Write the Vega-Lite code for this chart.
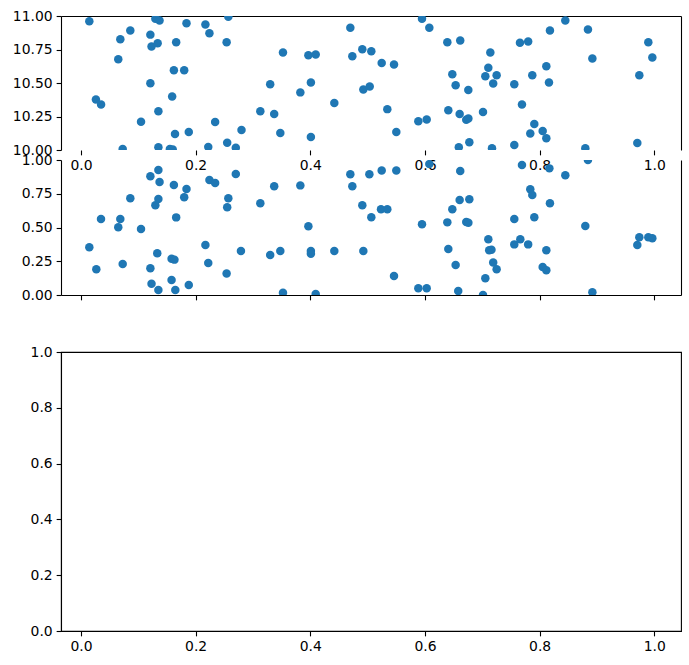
{
  "$schema": "https://vega.github.io/schema/vega-lite/v6.json",
  "padding": {"left": 12, "top": 9, "right": 5, "bottom": 5},
  "background": "white",
  "spacing": 10,
  "bounds": "flush",
  "config": {
    "view": {"stroke": null},
    "axis": {
      "labelFont": "DejaVu Sans", "labelFontSize": 13.9, "labelColor": "black",
      "tickColor": "black", "domainColor": "black", "tickSize": 4.86, "tickWidth": 1.1,
      "domainWidth": 1.1, "labelPadding": 4, "grid": false, "title": null,
      "labelOverlap": false, "labelFlush": false, "labelBound": false
    }
  },
  "datasets": {
    "top": [
      {"x":0.0145,"y":10.96},{"x":0.026,"y":10.377},{"x":0.035,"y":10.34},{"x":0.065,"y":10.678},{"x":0.0686,"y":10.827},
      {"x":0.0727,"y":10.007},{"x":0.086,"y":10.891},{"x":0.1047,"y":10.21},{"x":0.121,"y":10.861},{"x":0.121,"y":10.499},
      {"x":0.123,"y":10.772},{"x":0.1297,"y":10.98},{"x":0.1337,"y":10.797},{"x":0.137,"y":10.966},{"x":0.135,"y":10.29},
      {"x":0.135,"y":10.02},{"x":0.159,"y":10.40},{"x":0.162,"y":10.596},{"x":0.155,"y":10.007},{"x":0.16,"y":10.003},
      {"x":0.164,"y":10.12},{"x":0.166,"y":10.804},{"x":0.180,"y":10.596},{"x":0.184,"y":10.946},{"x":0.188,"y":10.134},
      {"x":0.217,"y":10.936},{"x":0.224,"y":10.871},{"x":0.222,"y":10.022},{"x":0.234,"y":10.209},{"x":0.257,"y":10.995},
      {"x":0.254,"y":10.804},{"x":0.255,"y":10.054},{"x":0.270,"y":10.017},{"x":0.280,"y":10.149},{"x":0.3128,"y":10.29},
      {"x":0.330,"y":10.49},{"x":0.337,"y":10.268},{"x":0.3477,"y":10.127},{"x":0.3523,"y":10.727},{"x":0.3826,"y":10.43},
      {"x":0.3966,"y":10.707},{"x":0.401,"y":10.504},{"x":0.4094,"y":10.712},{"x":0.401,"y":10.097},{"x":0.4419,"y":10.35},
      {"x":0.4698,"y":10.913},{"x":0.4733,"y":10.70},{"x":0.4907,"y":10.752},{"x":0.4925,"y":10.452},{"x":0.5036,"y":10.474},
      {"x":0.5064,"y":10.737},{"x":0.5245,"y":10.65},{"x":0.546,"y":10.638},{"x":0.5343,"y":10.305},{"x":0.550,"y":10.134},
      {"x":0.5884,"y":10.214},{"x":0.603,"y":10.228},{"x":0.5948,"y":10.98},{"x":0.6076,"y":10.913},{"x":0.639,"y":10.804},
      {"x":0.6615,"y":10.818},{"x":0.6477,"y":10.566},{"x":0.6535,"y":10.484},{"x":0.6407,"y":10.296},{"x":0.6605,"y":10.268},
      {"x":0.659,"y":10.02},{"x":0.6756,"y":10.447},{"x":0.672,"y":10.226},{"x":0.6757,"y":10.235},{"x":0.6774,"y":10.057},
      {"x":0.7012,"y":10.283},{"x":0.714,"y":10.727},{"x":0.7105,"y":10.613},{"x":0.7053,"y":10.551},{"x":0.725,"y":10.558},
      {"x":0.719,"y":10.497},{"x":0.7169,"y":10.013},{"x":0.7558,"y":10.49},{"x":0.7558,"y":10.037},{"x":0.7657,"y":10.80},
      {"x":0.780,"y":10.81},{"x":0.7692,"y":10.34},{"x":0.7872,"y":10.558},{"x":0.7907,"y":10.194},{"x":0.7837,"y":10.124},
      {"x":0.8053,"y":10.141},{"x":0.8117,"y":10.087},{"x":0.8117,"y":10.625},{"x":0.8163,"y":10.504},{"x":0.818,"y":10.891},
      {"x":0.8448,"y":10.966},{"x":0.8843,"y":10.90},{"x":0.892,"y":10.683},{"x":0.8797,"y":10.013},{"x":0.9704,"y":10.052},
      {"x":0.9739,"y":10.558},{"x":0.9896,"y":10.804},{"x":0.9966,"y":10.69}
    ],
    "mid": [
      {"x":0.0145,"y":0.353},{"x":0.0267,"y":0.19},{"x":0.0349,"y":0.563},{"x":0.065,"y":0.501},{"x":0.0686,"y":0.563},
      {"x":0.0727,"y":0.23},{"x":0.086,"y":0.716},{"x":0.1047,"y":0.489},{"x":0.121,"y":0.879},{"x":0.121,"y":0.198},
      {"x":0.123,"y":0.084},{"x":0.1297,"y":0.664},{"x":0.135,"y":0.926},{"x":0.137,"y":0.837},{"x":0.135,"y":0.711},
      {"x":0.133,"y":0.309},{"x":0.135,"y":0.037},{"x":0.158,"y":0.111},{"x":0.158,"y":0.268},{"x":0.163,"y":0.262},
      {"x":0.162,"y":0.815},{"x":0.1645,"y":0.037},{"x":0.166,"y":0.575},{"x":0.180,"y":0.724},{"x":0.184,"y":0.785},
      {"x":0.188,"y":0.074},{"x":0.217,"y":0.37},{"x":0.222,"y":0.237},{"x":0.224,"y":0.852},{"x":0.234,"y":0.83},
      {"x":0.254,"y":0.16},{"x":0.255,"y":0.65},{"x":0.257,"y":0.716},{"x":0.270,"y":0.896},{"x":0.279,"y":0.326},
      {"x":0.3128,"y":0.679},{"x":0.330,"y":0.296},{"x":0.337,"y":0.805},{"x":0.3477,"y":0.326},{"x":0.3523,"y":0.017},
      {"x":0.3826,"y":0.812},{"x":0.3966,"y":0.509},{"x":0.401,"y":0.326},{"x":0.401,"y":0.306},{"x":0.4094,"y":0.007},
      {"x":0.4419,"y":0.326},{"x":0.4698,"y":0.894},{"x":0.4733,"y":0.805},{"x":0.4907,"y":0.664},{"x":0.4925,"y":0.326},
      {"x":0.503,"y":0.894},{"x":0.5064,"y":0.576},{"x":0.5245,"y":0.923},{"x":0.5233,"y":0.635},{"x":0.5343,"y":0.635},
      {"x":0.550,"y":0.923},{"x":0.546,"y":0.141},{"x":0.5884,"y":0.05},{"x":0.603,"y":0.05},{"x":0.5948,"y":0.524},
      {"x":0.6076,"y":0.97},{"x":0.639,"y":0.538},{"x":0.6615,"y":0.918},{"x":0.6477,"y":0.635},{"x":0.6535,"y":0.222},
      {"x":0.6407,"y":0.341},{"x":0.6605,"y":0.704},{"x":0.658,"y":0.03},{"x":0.6774,"y":0.709},{"x":0.672,"y":0.54},
      {"x":0.6757,"y":0.535},{"x":0.7012,"y":0.0},{"x":0.7053,"y":0.124},{"x":0.7105,"y":0.413},{"x":0.712,"y":0.331},
      {"x":0.716,"y":0.335},{"x":0.719,"y":0.24},{"x":0.725,"y":0.19},{"x":0.7558,"y":0.563},{"x":0.7558,"y":0.375},
      {"x":0.7663,"y":0.413},{"x":0.7692,"y":0.963},{"x":0.780,"y":0.375},{"x":0.7837,"y":0.783},{"x":0.7872,"y":0.741},
      {"x":0.7907,"y":0.576},{"x":0.8053,"y":0.207},{"x":0.8117,"y":0.183},{"x":0.8117,"y":0.331},{"x":0.818,"y":0.679},
      {"x":0.817,"y":0.938},{"x":0.8448,"y":0.887},{"x":0.8797,"y":0.511},{"x":0.8843,"y":1.0},{"x":0.892,"y":0.02},
      {"x":0.9704,"y":0.37},{"x":0.9739,"y":0.427},{"x":0.9896,"y":0.427},{"x":0.9966,"y":0.42}
    ]
  },
  "vconcat": [
    {
      "width": 620, "height": 134,
      "data": {"name": "top"},
      "layer": [
        {
          "mark": {"type": "circle", "size": 72, "opacity": 1, "color": "#1f77b4", "clip": true},
          "encoding": {
            "x": {"field": "x", "type": "quantitative", "scale": {"domain": [-0.0349, 1.0466], "nice": false, "zero": false},
                  "axis": {"orient": "bottom", "values": [0, 0.2, 0.4, 0.6, 0.8, 1.0], "format": ".1f", "domain": false}},
            "y": {"field": "y", "type": "quantitative", "scale": {"domain": [10, 11], "nice": false, "zero": false},
                  "axis": {"orient": "left", "values": [10, 10.25, 10.5, 10.75, 11], "format": ".2f"}}
          }
        },
        {
          "mark": {"type": "circle", "opacity": 0},
          "encoding": {
            "x": {"field": "x", "type": "quantitative", "axis": {"orient": "top", "ticks": false, "labels": false, "domain": true}},
            "y": {"field": "y", "type": "quantitative", "axis": {"orient": "right", "ticks": false, "labels": false, "domain": true}}
          }
        }
      ],
      "resolve": {"axis": {"x": "independent", "y": "independent"}}
    },
    {
      "width": 620, "height": 135,
      "data": {"name": "mid"},
      "layer": [
        {
          "mark": {"type": "circle", "size": 72, "opacity": 1, "color": "#1f77b4", "clip": true},
          "encoding": {
            "x": {"field": "x", "type": "quantitative", "scale": {"domain": [-0.0349, 1.0466], "nice": false, "zero": false},
                  "axis": {"orient": "bottom", "values": [0, 0.2, 0.4, 0.6, 0.8, 1.0], "labels": false, "domain": true, "ticks": true}},
            "y": {"field": "y", "type": "quantitative", "scale": {"domain": [0, 1], "nice": false, "zero": false},
                  "axis": {"orient": "left", "values": [0, 0.25, 0.5, 0.75, 1], "format": ".2f"}}
          }
        },
        {
          "mark": {"type": "circle", "opacity": 0},
          "encoding": {
            "x": {"field": "x", "type": "quantitative",
                  "axis": {"orient": "bottom", "values": [0, 0.2, 0.4, 0.6, 0.8, 1.0], "labels": false, "domain": true, "ticks": true}},
            "y": {"field": "y", "type": "quantitative", "axis": {"orient": "right", "ticks": false, "labels": false, "domain": true}}
          }
        }
      ],
      "resolve": {"axis": {"y": "independent"}}
    },
    {
      "width": 620, "height": 37,
      "data": {"name": "mid"},
      "mark": {"type": "circle", "opacity": 0},
      "encoding": {
        "x": {"field": "x", "type": "quantitative", "axis": null},
        "y": {"field": "y", "type": "quantitative", "axis": null}
      }
    },
    {
      "width": 620, "height": 279,
      "view": {"stroke": "black", "strokeWidth": 1.1},
      "data": {"values": []},
      "mark": {"type": "circle", "opacity": 0},
      "encoding": {
        "x": {"field": "x", "type": "quantitative", "scale": {"domain": [-0.0349, 1.0466], "nice": false, "zero": false},
              "axis": {"values": [0, 0.2, 0.4, 0.6, 0.8, 1.0], "format": ".1f"}},
        "y": {"field": "y", "type": "quantitative", "scale": {"domain": [0, 1], "nice": false, "zero": false},
              "axis": {"values": [0, 0.2, 0.4, 0.6, 0.8, 1.0], "format": ".1f"}}
      }
    }
  ]
}
